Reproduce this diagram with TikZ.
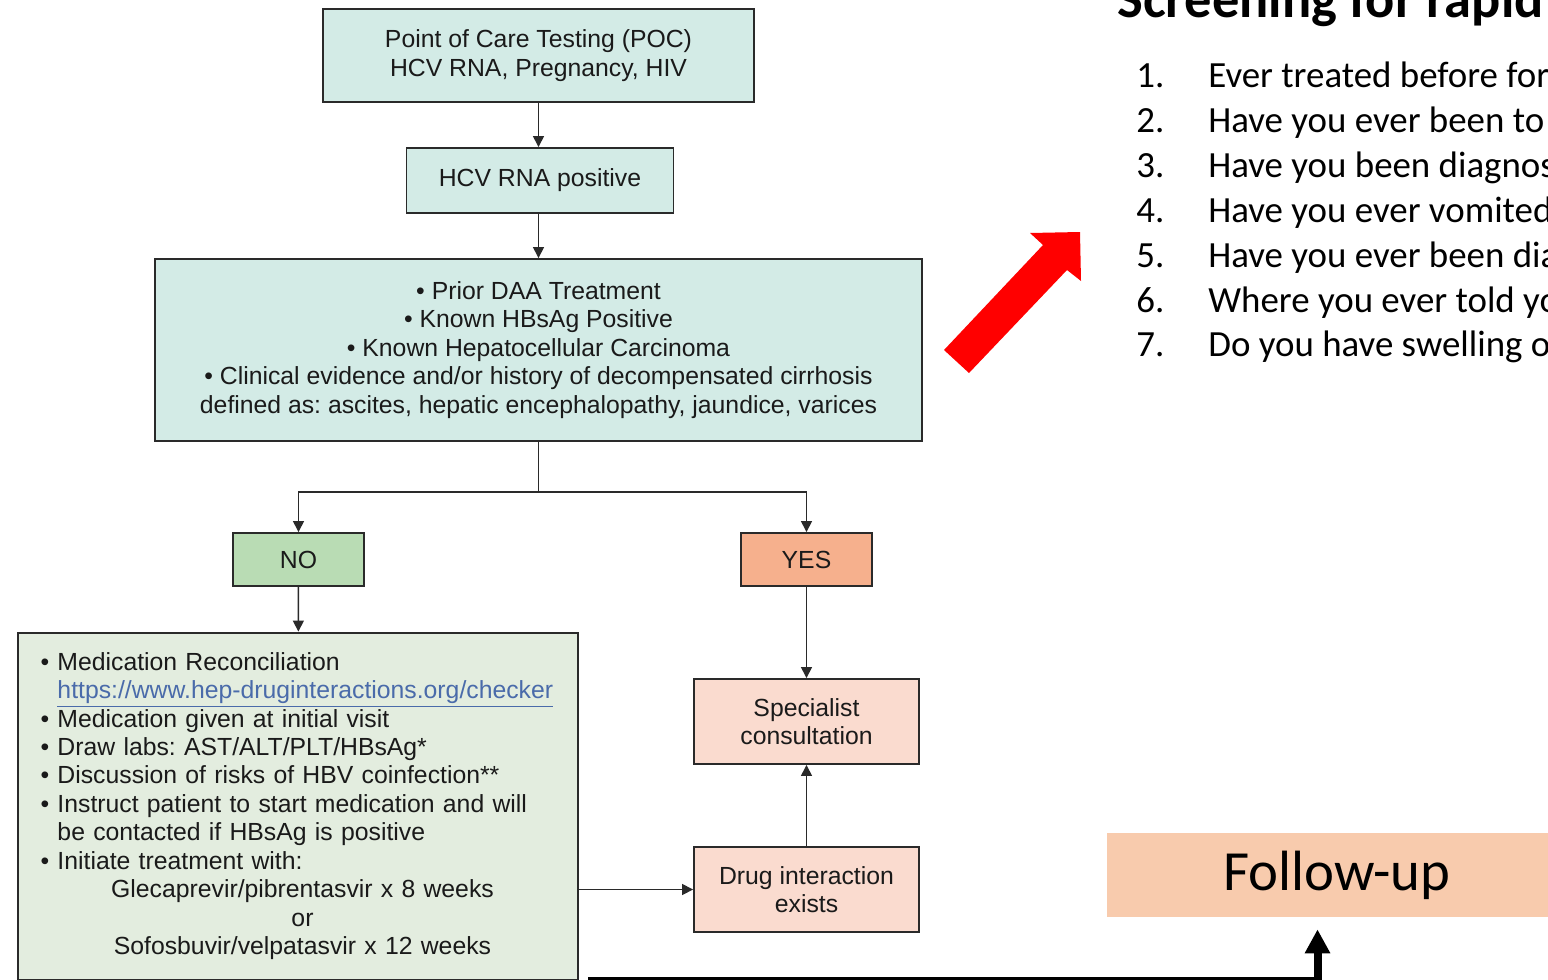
\documentclass[tikz,border=0pt]{standalone}
\usepackage{fontspec}
\setmainfont{Liberation Sans}
\newfontfamily\calfont{Carlito}
\usepackage{xcolor}
\usepackage{tikz}
\usetikzlibrary{arrows.meta}
\frenchspacing
\definecolor{tealfill}{HTML}{D3EBE6}
\definecolor{nofill}{HTML}{B9DCB4}
\definecolor{yesfill}{HTML}{F6B08D}
\definecolor{pinkfill}{HTML}{FADBCF}
\definecolor{actfill}{HTML}{E3EDDF}
\definecolor{fufill}{HTML}{F8CBAD}
\definecolor{linkcolor}{HTML}{4A6BAA}
\definecolor{boxline}{HTML}{2A2A2A}
\definecolor{textcolor}{HTML}{1A1A1A}
\tikzset{
  flowbox/.style={draw=boxline, line width=1.1pt, rectangle, inner sep=0pt, align=center, text=textcolor, font=\fontsize{14.1}{16.2}\selectfont},
  flowarrow/.style={draw=boxline, line width=0.85pt, -{Triangle[length=0.22cm,width=0.22cm]}},
  bigarrow/.style={draw=black, line width=0.16cm, -{Triangle[length=0.48cm,width=0.48cm]}},
  itemtext/.style={anchor=base west, inner sep=0pt, font=\calfont\fontsize{21}{24}\selectfont},
}

\begin{document}
\begin{tikzpicture}[x=0.02cm, y=-0.02cm]%
\useasboundingbox (0,0) rectangle (1548,980);%
\clip (0,0) rectangle (1548,980);%
\fill[white] (0,0) rectangle (1548,980);%
% flowchart
\node[flowbox, fill=tealfill, minimum width=8.62cm, minimum height=1.86cm] (poc) at (538.5,55.5) {Point of Care Testing (POC)\\HCV RNA, Pregnancy, HIV};%
\node[flowbox, fill=tealfill, minimum width=5.34cm, minimum height=1.3cm] (rnapos) at (540,180.5) {HCV RNA positive};%
\node[flowbox, fill=tealfill, minimum width=15.34cm, minimum height=3.64cm] (daa) at (538.5,350) {\textbullet\ Prior DAA Treatment\\\textbullet\ Known HBsAg Positive\\\textbullet\ Known Hepatocellular Carcinoma\\\textbullet\ Clinical evidence and/or history of decompensated cirrhosis\\defined as: ascites, hepatic encephalopathy, jaundice, varices};%
\node[flowbox, fill=nofill, minimum width=2.62cm, minimum height=1.06cm] (no) at (298.5,559.5) {NO};%
\node[flowbox, fill=yesfill, minimum width=2.62cm, minimum height=1.06cm] (yes) at (806.5,559.5) {YES};%
\node[flowbox, fill=actfill, minimum width=11.2cm, minimum height=6.94cm, text width=10.3cm, align=left] (noact) at (298,806) {%
\textbullet\ Medication Reconciliation\\
\phantom{\textbullet\ }{\color{linkcolor}\underline{https://www.hep-druginteractions.org/checker}}\\
\textbullet\ Medication given at initial visit\\
\textbullet\ Draw labs: AST/ALT/PLT/HBsAg*\\
\textbullet\ Discussion of risks of HBV coinfection**\\
\textbullet\ Instruct patient to start medication and will\\
\phantom{\textbullet\ }be contacted if HBsAg is positive\\
\textbullet\ Initiate treatment with:\\
\makebox[10.48cm][c]{Glecaprevir/pibrentasvir x 8 weeks}\\
\makebox[10.48cm][c]{or}\\
\makebox[10.48cm][c]{Sofosbuvir/velpatasvir x 12 weeks}};%
\node[flowbox, fill=pinkfill, minimum width=4.5cm, minimum height=1.7cm] (spec) at (806.5,721.5) {Specialist\\consultation};%
\node[flowbox, fill=pinkfill, minimum width=4.5cm, minimum height=1.7cm] (drug) at (806.5,889.5) {Drug interaction\\exists};%
\coordinate (split) at (538.5,492);%
\draw[flowarrow] (poc.south) -- (poc.south |- rnapos.north);%
\draw[flowarrow] (poc.south |- rnapos.south) -- (daa.north);%
\draw[flowarrow] (daa.south) -- (split) -| (no.north);%
\draw[flowarrow] (split) -| (yes.north);%
\draw[flowarrow] (no) -- (noact);%
\draw[flowarrow] (yes) -- (spec);%
\draw[flowarrow] (drug) -- (spec);%
\draw[flowarrow] (noact.east |- drug.west) -- (drug.west);%
% screening list
\node[anchor=base west, inner sep=0pt, font=\calfont\bfseries\fontsize{31}{37}\selectfont] (title) at (1117,18) {Screening for rapid};%
\foreach \qtext [count=\i] in {Ever treated before for, Have you ever been to, Have you been diagnos, Have you ever vomited, Have you ever been dia, Where you ever told yo, Do you have swelling o} {%
  \node[itemtext] (num\i) at (1136,{88+44.8*(\i-1)}) {\i.};%
  \node[itemtext] (item\i) at (1208,{88+44.8*(\i-1)}) {\qtext};%
}%
\fill[red] (944,350) -- (1043,245) -- (1030,233) -- (1080,232) -- (1081,281) -- (1067,270) -- (969,373) -- cycle;%
% follow-up
\node[fill=fufill, minimum width=9.2cm, minimum height=1.68cm, font=\calfont\fontsize{32.3}{38}\selectfont] (fu) at (1337,875) {Follow-up};%
\coordinate (fustart) at (588,981);%
\draw[bigarrow] (fustart) -| ([xshift=-0.39cm,yshift=-0.24cm]fu.south);%
\end{tikzpicture}
\end{document}
